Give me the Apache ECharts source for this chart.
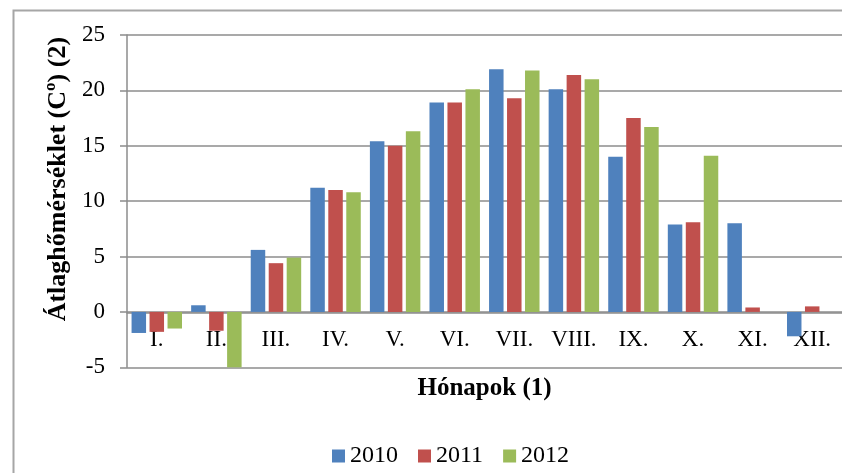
<!DOCTYPE html>
<html>
<head>
<meta charset="utf-8">
<script src="https://cdn.jsdelivr.net/npm/echarts@6/dist/echarts.min.js"></script>
<style>
  html, body { margin: 0; padding: 0; background: #fff; }
  #chart { width: 842px; height: 473px; }
</style>
</head>
<body>
<div id="chart"></div>
<script>
const months = ['I.', 'II.', 'III.', 'IV.', 'V.', 'VI.', 'VII.', 'VIII.', 'IX.', 'X.', 'XI.', 'XII.']
const years = ['2010', '2011', '2012']
const temp2010 = [-1.9, 0.6, 5.6, 11.2, 15.4, 18.9, 21.9, 20.1, 14.0, 7.9, 8.0, -2.2]
const temp2011 = [-1.8, -1.7, 4.4, 11.0, 15.0, 18.9, 19.3, 21.4, 17.5, 8.1, 0.4, 0.5]
const temp2012 = [-1.5, -5.0, 4.9, 10.8, 16.3, 20.1, 21.8, 21.0, 16.7, 14.1, null, null]
const yTicks = { min: -5, max: 25, step: 5 }

const COLORS = ['#4F81BD', '#C0504D', '#9BBB59']
const FONT = '"Liberation Serif", "Times New Roman", serif'
const GRID_COLOR = '#8c8c8c'

const chart = echarts.init(document.getElementById('chart'))

const makeSeries = (name, data, i) => ({
  name,
  type: 'bar',
  data,
  barWidth: 14.5,
  barGap: '24%',
  itemStyle: { color: COLORS[i] },
  emphasis: { disabled: true },
})

chart.setOption({
  animation: false,
  backgroundColor: '#fff',
  color: COLORS,
  textStyle: { fontFamily: FONT },
  graphic: [
    {
      type: 'rect',
      left: 11,
      top: 8,
      shape: { width: 900, height: 500 },
      style: { fill: 'none', stroke: '#a6a6a6', lineWidth: 2 },
      silent: true,
      z: -1,
    },
  ],
  grid: { left: 127, top: 35, width: 722, height: 332.3 },
  legend: {
    left: 327,
    top: 439,
    itemWidth: 13,
    itemHeight: 13,
    itemGap: 20,
    icon: 'rect',
    textStyle: { fontFamily: FONT, fontSize: 24, color: '#000' },
    data: years,
  },
  xAxis: {
    type: 'category',
    data: months,
    name: 'Hónapok (1)',
    nameLocation: 'middle',
    nameGap: 64,
    offset: -55,
    nameTextStyle: { fontFamily: FONT, fontSize: 25, fontWeight: 'bold', color: '#000' },
    axisLine: { onZero: false, lineStyle: { color: GRID_COLOR, width: 1.5 } },
    axisTick: { show: false },
    axisLabel: { fontFamily: FONT, fontSize: 23, color: '#000', margin: 16, interval: 0 },
  },
  yAxis: {
    type: 'value',
    min: yTicks.min,
    max: yTicks.max,
    interval: yTicks.step,
    name: 'Átlaghőmérséklet (Cº) (2)',
    nameLocation: 'middle',
    nameGap: 55,
    nameRotate: 90,
    nameTextStyle: { fontFamily: FONT, fontSize: 26, fontWeight: 'bold', color: '#000', padding: [0, 0, 0, 44] },
    axisLine: { show: true, lineStyle: { color: GRID_COLOR, width: 1.5 } },
    axisTick: { show: true, inside: false, length: 7, lineStyle: { color: GRID_COLOR, width: 1.5 } },
    axisLabel: { fontFamily: FONT, fontSize: 23, color: '#000', margin: 22 },
    splitLine: { lineStyle: { color: GRID_COLOR, width: 1.5 } },
  },
  series: [
    makeSeries(years[0], temp2010, 0),
    makeSeries(years[1], temp2011, 1),
    makeSeries(years[2], temp2012, 2),
  ],
})
</script>
</body>
</html>
